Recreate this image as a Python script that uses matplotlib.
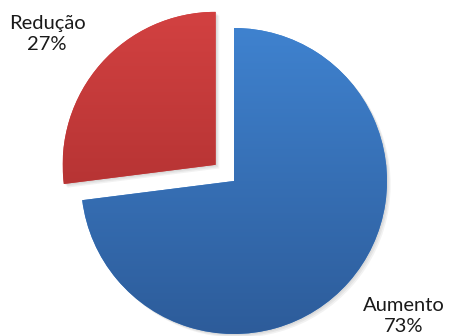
import numpy as np
import matplotlib
matplotlib.use("Agg")
import matplotlib.pyplot as plt
from matplotlib.colors import LinearSegmentedColormap
from matplotlib.patches import Wedge

# data
labels = ["Aumento", "Redução"]
values = [73, 27]
explode = [0.0, 0.16]

# gradient colours (top, bottom) per slice
grad_colors = [("#3f82cf", "#2d5c9a"), ("#d24141", "#a22a2a")]

fig = plt.figure(figsize=(4.49, 3.36), dpi=100)
ax = fig.add_axes([0, 0, 1, 1])

# pie centre at px (234, 181), radius 153 px
r_px = 153.0
cx, cy = 234.0, 181.0
xlim = (-cx / r_px, (449 - cx) / r_px)
ylim = (-(336 - cy) / r_px, cy / r_px)

wedges, _ = ax.pie(values, startangle=90, counterclock=False, explode=explode,
                   colors=[c[0] for c in grad_colors], radius=1.0,
                   wedgeprops=dict(linewidth=0, zorder=3))

# soft shadow under the wedges
for w in wedges:
    for k in range(3):
        d = 0.008 * (k + 1)
        s = Wedge((w.center[0] + d, w.center[1] - d), w.r, w.theta1, w.theta2,
                  facecolor="black", alpha=0.05, linewidth=0, zorder=1)
        ax.add_patch(s)

# gradient fill clipped to each wedge
for w, (top, bot) in zip(wedges, grad_colors):
    cmap = LinearSegmentedColormap.from_list("g", [bot, top])
    x0, y0 = w.center
    grad = np.linspace(0, 1, 256).reshape(-1, 1)
    im = ax.imshow(grad, cmap=cmap, origin="lower", aspect="auto",
                   extent=[x0 - 1, x0 + 1, y0 - 1, y0 + 1], zorder=4)
    im.set_clip_path(w)

ax.set_xlim(*xlim)
ax.set_ylim(*ylim)
ax.set_aspect("equal")
ax.axis("off")


def px(x, y):
    return (x - cx) / r_px, (cy - y) / r_px


font = dict(family=["Lato", "DejaVu Sans"], fontsize=14.5, color="#1a1a1a",
            ha="center", va="center", linespacing=1.25, zorder=6)
ax.text(*px(47, 34), f"{labels[1]}\n{values[1]}%", **font)
ax.text(*px(404, 316), f"{labels[0]}\n{values[0]}%", **font)

fig.savefig("out.png", dpi=100, facecolor="white")
